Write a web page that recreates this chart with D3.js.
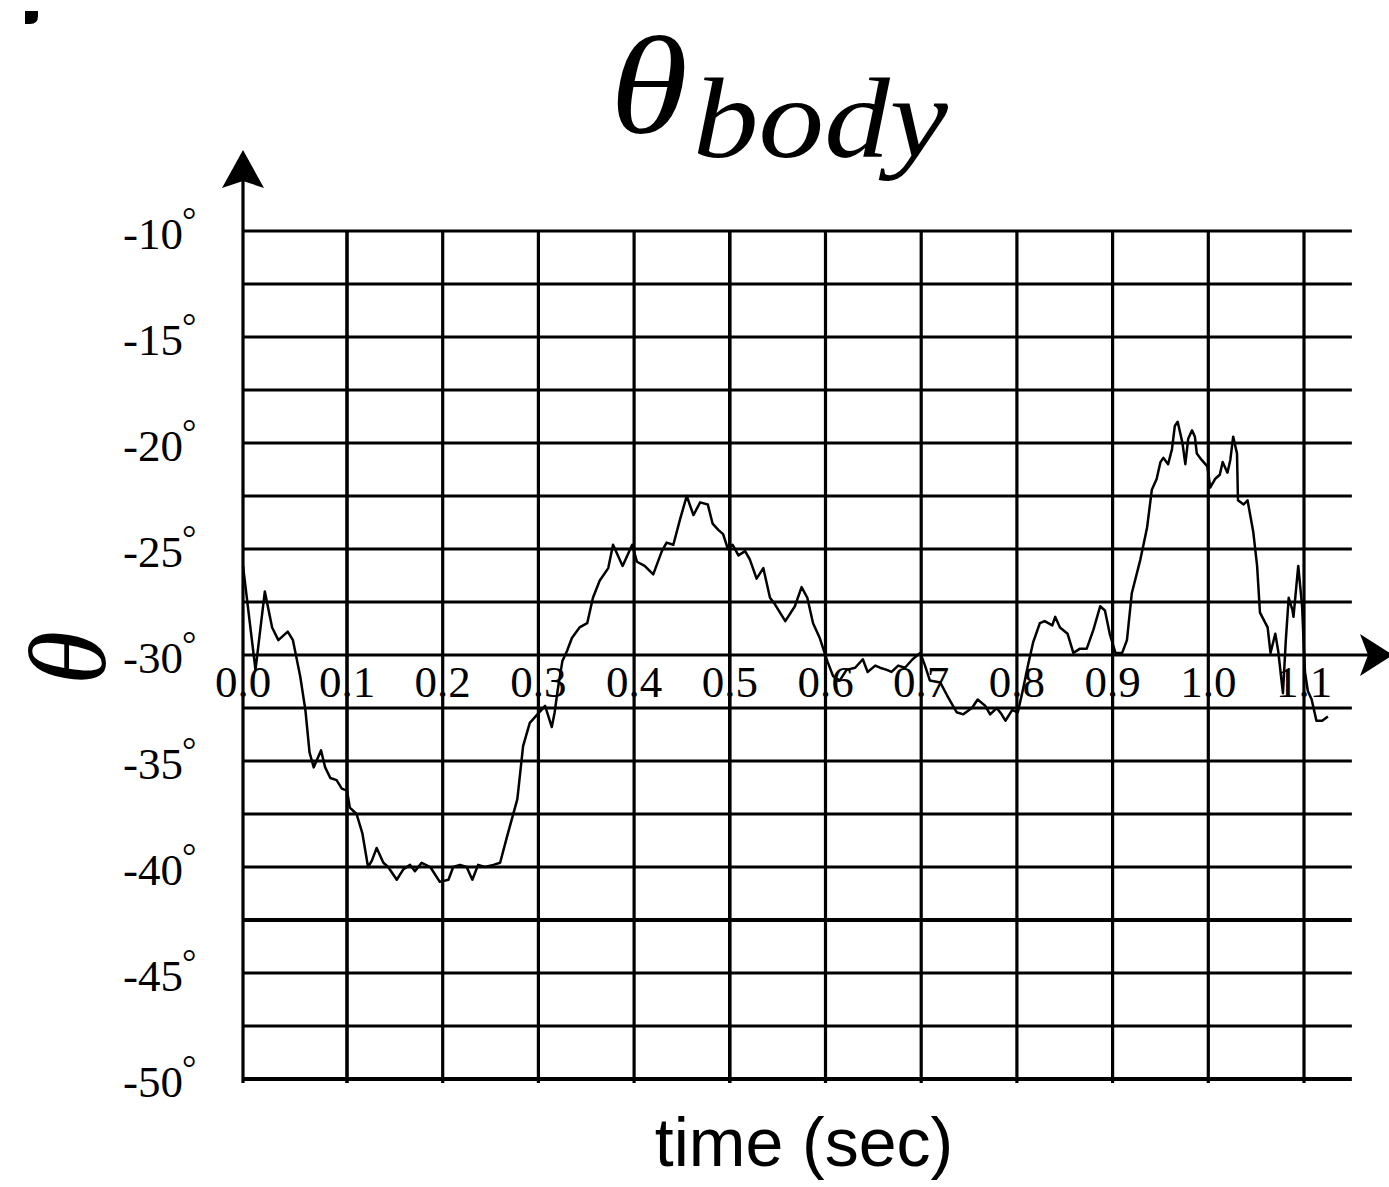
<!DOCTYPE html>
<html>
<head>
<meta charset="utf-8">
<script src="https://cdn.jsdelivr.net/npm/d3@7"></script>
<style>
  html, body { margin: 0; padding: 0; background: #fff; }
  svg { display: block; }
</style>
</head>
<body>
<svg id="chart" width="1389" height="1187"></svg>
<script>
// ---- data ----
const timeSec = [0.000,0.012,0.021,0.028,0.034,0.043,0.048,0.055,0.060,0.064,0.068,0.075,0.079,0.084,0.090,0.095,0.100,0.103,0.110,0.116,0.122,0.126,0.131,0.138,0.143,0.152,0.159,0.166,0.171,0.178,0.187,0.197,0.206,0.211,0.218,0.225,0.231,0.237,0.244,0.253,0.260,0.267,0.278,0.284,0.291,0.299,0.307,0.314,0.317,0.320,0.325,0.330,0.335,0.343,0.351,0.357,0.364,0.373,0.378,0.388,0.398,0.403,0.411,0.420,0.429,0.434,0.441,0.448,0.455,0.462,0.469,0.477,0.482,0.488,0.493,0.498,0.503,0.509,0.516,0.521,0.528,0.535,0.542,0.547,0.558,0.568,0.575,0.581,0.587,0.594,0.602,0.608,0.615,0.622,0.631,0.639,0.644,0.652,0.657,0.664,0.669,0.676,0.683,0.691,0.699,0.704,0.709,0.720,0.727,0.737,0.744,0.753,0.759,0.767,0.772,0.779,0.784,0.788,0.795,0.801,0.806,0.812,0.817,0.824,0.829,0.837,0.840,0.845,0.853,0.859,0.866,0.873,0.880,0.887,0.892,0.897,0.903,0.910,0.915,0.920,0.929,0.936,0.941,0.946,0.950,0.953,0.958,0.962,0.965,0.968,0.973,0.976,0.979,0.983,0.986,0.988,0.993,0.999,1.002,1.007,1.012,1.015,1.020,1.023,1.026,1.030,1.031,1.037,1.041,1.047,1.051,1.054,1.062,1.065,1.070,1.073,1.078,1.081,1.084,1.088,1.089,1.094,1.098,1.101,1.104,1.108,1.113,1.119,1.125];
const thetaDeg = [-25.8,-30.7,-27.0,-28.7,-29.3,-28.9,-29.3,-31.0,-32.6,-34.6,-35.3,-34.5,-35.3,-35.8,-35.9,-36.3,-36.4,-37.2,-37.5,-38.4,-40.0,-39.7,-39.1,-39.8,-40.0,-40.6,-40.1,-39.9,-40.2,-39.8,-40.0,-40.7,-40.6,-40.0,-39.9,-40.0,-40.6,-39.9,-40.0,-39.9,-39.8,-38.6,-36.8,-34.3,-33.2,-32.8,-32.4,-33.4,-32.7,-31.7,-30.3,-29.8,-29.2,-28.7,-28.5,-27.3,-26.5,-25.9,-24.8,-25.8,-24.8,-25.6,-25.8,-26.2,-25.1,-24.7,-24.8,-23.6,-22.5,-23.4,-22.8,-22.9,-23.8,-24.1,-24.3,-25.0,-24.8,-25.3,-25.1,-25.5,-26.4,-25.9,-27.3,-27.6,-28.4,-27.7,-26.8,-27.3,-28.5,-29.2,-30.3,-31.0,-31.2,-30.7,-30.6,-30.2,-30.8,-30.5,-30.6,-30.7,-30.8,-30.5,-30.6,-30.2,-29.9,-30.5,-31.2,-31.3,-31.9,-32.7,-32.8,-32.5,-32.1,-32.4,-32.8,-32.5,-32.8,-33.1,-32.6,-32.7,-31.7,-30.4,-29.4,-28.5,-28.4,-28.6,-28.2,-28.7,-29.0,-29.9,-29.7,-29.7,-28.8,-27.7,-27.9,-29.0,-29.9,-29.9,-29.3,-27.1,-25.5,-24.0,-22.2,-21.7,-20.9,-20.7,-21.0,-20.3,-19.2,-19.0,-20.0,-21.0,-19.8,-19.4,-19.7,-20.5,-20.8,-21.1,-22.1,-21.7,-21.5,-20.9,-21.4,-20.8,-19.7,-20.5,-22.7,-22.9,-22.7,-24.2,-25.8,-28.0,-28.7,-29.9,-29.0,-29.8,-31.8,-29.3,-27.3,-27.9,-28.2,-25.8,-27.7,-30.8,-31.7,-32.1,-33.1,-33.1,-32.9];
const xTickValues = [0.0,0.1,0.2,0.3,0.4,0.5,0.6,0.7,0.8,0.9,1.0,1.1];
const xTickLabels = ["0.0","0.1","0.2","0.3","0.4","0.5","0.6","0.7","0.8","0.9","1.0","1.1"];
const yGridValues = [-50,-47.5,-45,-42.5,-40,-37.5,-35,-32.5,-30,-27.5,-25,-22.5,-20,-17.5,-15,-12.5,-10];
const yLabelValues = [-50,-45,-40,-35,-30,-25,-20,-15,-10];
const yLabelText = ["-50","-45","-40","-35","-30","-25","-20","-15","-10"];
const xAxisAt = -30;
const xEnd = 1.15;

// ---- scales ----
const x = d3.scaleLinear().domain([0, 0.1, 1.1]).range([243, 347, 1304]);
const y = d3.scaleLinear().domain([-50, -10]).range([1079, 231]);

const svg = d3.select("#chart");
const serif = "'Liberation Serif','DejaVu Serif',serif";

// stray mark top-left
svg.append("path").attr("d", "M25,11 H38 V16 Q38,24 30,24 H25 Z").attr("fill", "#000");

// grid: horizontal
const grid = svg.append("g").attr("stroke", "#000");
grid.selectAll("line.h").data(yGridValues).enter().append("line")
  .attr("class", "h")
  .attr("x1", x(0)).attr("x2", d => d === xAxisAt ? 1368 : x(xEnd))
  .attr("y1", d => y(d)).attr("y2", d => y(d))
  .attr("stroke-width", d => (d === -50 || d === -42.5) ? 4 : 3.2);

// grid: vertical
grid.selectAll("line.v").data(xTickValues.slice(1)).enter().append("line")
  .attr("class", "v")
  .attr("x1", d => x(d)).attr("x2", d => x(d))
  .attr("y1", y(-10)).attr("y2", y(-50) + 4)
  .attr("stroke-width", d => (Math.abs(d - 0.1) < 1e-9 || Math.abs(d - 0.5) < 1e-9) ? 3.6 : 3.2);

// y axis with arrow
svg.append("line").attr("x1", x(0)).attr("x2", x(0)).attr("y1", y(-50) + 4).attr("y2", 170)
  .attr("stroke", "#000").attr("stroke-width", 3.2);
svg.append("path")
  .attr("d", `M${x(0)},150 L${x(0)+21},188 L${x(0)},181 L${x(0)-21},188 Z`)
  .attr("fill", "#000");

// x axis arrow
const ya = y(xAxisAt);
svg.append("path")
  .attr("d", `M1393,${ya} L1360,${ya-21} L1368,${ya} L1360,${ya+21} Z`)
  .attr("fill", "#000");

// y labels
const yl = svg.append("g").attr("font-family", serif).attr("fill", "#000");
yl.selectAll("text.lab").data(yLabelValues).enter().append("text")
  .attr("class", "lab")
  .attr("x", 183).attr("y", d => y(d) + 18)
  .attr("text-anchor", "end").attr("font-size", 45)
  .text((d, i) => yLabelText[i]);
yl.selectAll("text.deg").data(yLabelValues).enter().append("text")
  .attr("class", "deg")
  .attr("x", 182).attr("y", d => y(d) + 1)
  .attr("font-size", 36)
  .text("\u00B0");

// x labels
svg.append("g").attr("font-family", serif).attr("fill", "#000")
  .selectAll("text").data(xTickValues).enter().append("text")
  .attr("x", d => x(d)).attr("y", y(xAxisAt) + 42)
  .attr("text-anchor", "middle").attr("font-size", 45)
  .text((d, i) => xTickLabels[i]);

// curve
const pts = timeSec.map((t, i) => [t, thetaDeg[i]]);
svg.append("path").datum(pts)
  .attr("fill", "none").attr("stroke", "#000").attr("stroke-width", 2.5)
  .attr("stroke-linejoin", "round")
  .attr("d", d3.line().x(d => x(d[0])).y(d => y(d[1])));

// title
svg.append("text").attr("x", 610).attr("y", 133)
  .attr("font-family", serif).attr("font-style", "italic").attr("font-size", 140)
  .attr("textLength", 78).attr("lengthAdjust", "spacingAndGlyphs")
  .text("\u03B8");
svg.append("text").attr("x", 693).attr("y", 157)
  .attr("font-family", serif).attr("font-style", "italic").attr("font-size", 115)
  .attr("textLength", 255).attr("lengthAdjust", "spacingAndGlyphs")
  .text("body");

// y axis title
svg.append("text")
  .attr("transform", "translate(68,658) rotate(-90)")
  .attr("text-anchor", "middle").attr("dominant-baseline", "central")
  .attr("font-family", serif).attr("font-style", "italic").attr("font-size", 110)
  .text("\u03B8");

// x axis title
svg.append("text").attr("x", 804).attr("y", 1166)
  .attr("text-anchor", "middle")
  .attr("font-family", "'Liberation Sans', Arial, sans-serif").attr("font-size", 68)
  .text("time (sec)");
</script>
</body>
</html>
